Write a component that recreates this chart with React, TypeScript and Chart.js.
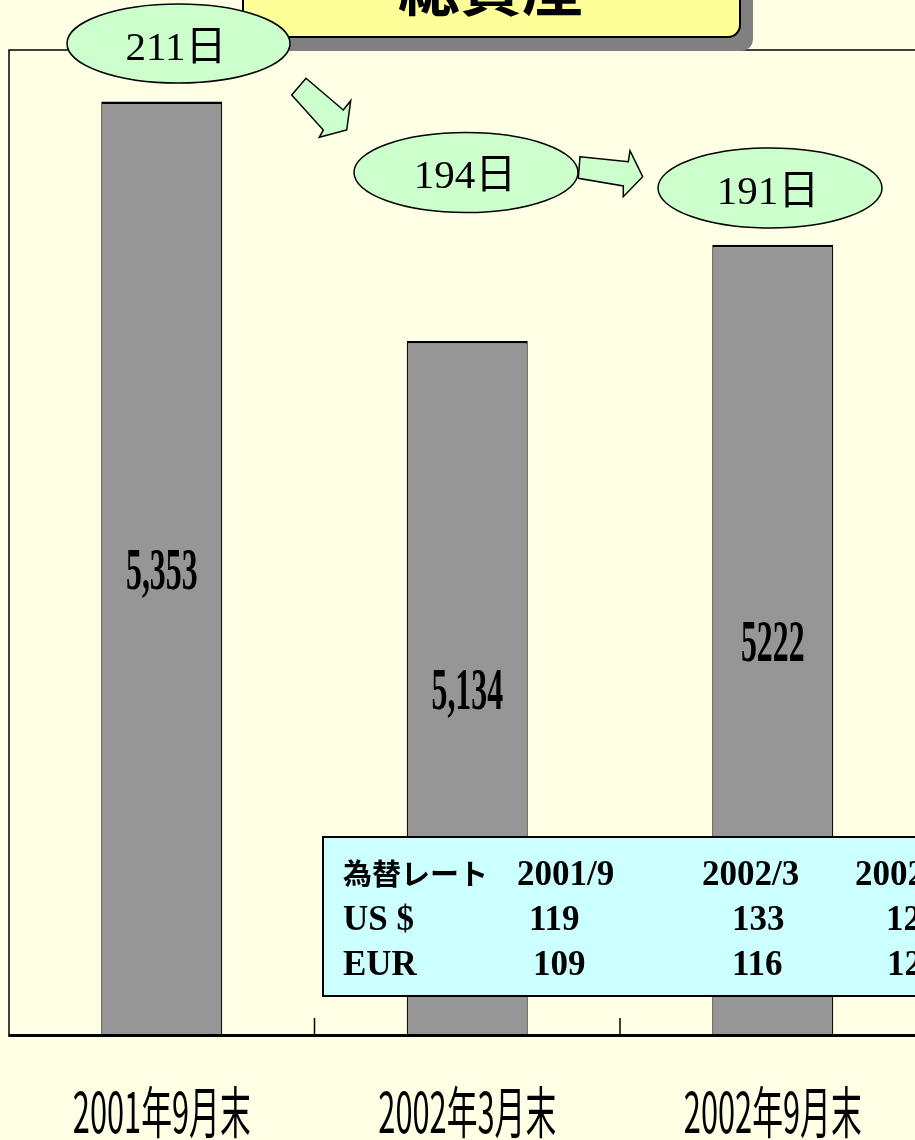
import React, { useEffect, useRef } from "react";
import { Chart, registerables } from "chart.js";

Chart.register(...registerables);

// ---- data ----
const categories = ["2001年9月末", "2002年3月末", "2002年9月末"];
const totalAssets = [5353, 5134, 5222];
const valueLabels = ["5,353", "5,134", "5222"];
const daysLabels = ["211日", "194日", "191日"];
const titleText = "総資産";
const rateTitle = "為替レート";
const rateHeaders = ["2001/9", "2002/3", "2002/9"];
const usdRates = ["119", "133", "122"];
const eurRates = ["109", "116", "120"];
const rateRowNames = ["US $", "EUR"];

const CANVAS_W = 930;
const CANVAS_H = 1140;

const decorPlugin = {
  id: "decor",
  afterDatasetsDraw(chart: any) {
    const { ctx, chartArea } = chart;
    const { left, top, right, bottom } = chartArea;
    const xScale = chart.scales.x;
    const yScale = chart.scales.y;
    ctx.save();
    ctx.strokeStyle = "#000";
    // plot border (left + top)
    ctx.lineWidth = 1.5;
    ctx.beginPath();
    ctx.moveTo(left, bottom);
    ctx.lineTo(left, top);
    ctx.lineTo(right, top);
    ctx.stroke();
    // axis line
    ctx.lineWidth = 3;
    ctx.beginPath();
    ctx.moveTo(left - 0.75, bottom + 0.5);
    ctx.lineTo(right, bottom + 0.5);
    ctx.stroke();
    // inside ticks between categories
    ctx.lineWidth = 1.5;
    for (let i = 0; i < categories.length - 1; i++) {
      const x = (xScale.getPixelForValue(i) + xScale.getPixelForValue(i + 1)) / 2;
      ctx.beginPath();
      ctx.moveTo(x, bottom - 17);
      ctx.lineTo(x, bottom);
      ctx.stroke();
    }
    // value labels in middle of bars
    ctx.fillStyle = "#000";
    ctx.textAlign = "center";
    ctx.textBaseline = "alphabetic";
    totalAssets.forEach((v, i) => {
      const x = xScale.getPixelForValue(i);
      const cy = (yScale.getPixelForValue(v) + bottom) / 2;
      ctx.save();
      ctx.translate(x, cy + 21);
      ctx.scale(0.53, 1);
      ctx.font = 'bold 60px "Liberation Serif"';
      ctx.fillText(valueLabels[i], 0, 0);
      ctx.restore();
    });
    // category labels (condensed)
    categories.forEach((lab, i) => {
      const x = xScale.getPixelForValue(i);
      ctx.save();
      ctx.translate(x, 1133);
      ctx.scale(0.55, 1);
      ctx.font = '56px "Noto Sans CJK JP"';
      ctx.fillText(lab, 0, 0);
      ctx.restore();
    });
    ctx.restore();
  },
};

function ChartCanvas() {
  const ref = useRef<HTMLCanvasElement | null>(null);
  useEffect(() => {
    if (!ref.current) return;
    const chart = new Chart(ref.current, {
      type: "bar",
      data: {
        labels: categories,
        datasets: [
          {
            data: totalAssets,
            backgroundColor: "#969696",
            borderColor: "#000",
            borderWidth: { top: 2.5, left: 1.2, right: 1.2, bottom: 0 },
            barPercentage: 0.396,
            categoryPercentage: 1,
          },
        ],
      },
      options: {
        animation: false,
        responsive: false,
        devicePixelRatio: 1,
        layout: { padding: { left: 9, top: 50, right: CANVAS_W - 925.5, bottom: CANVAS_H - 1035 } },
        plugins: { legend: { display: false }, tooltip: { enabled: false } },
        scales: {
          x: { display: false, offset: true },
          y: { display: false, min: 4500, max: 5400 },
        },
      },
      plugins: [decorPlugin],
    });
    return () => chart.destroy();
  }, []);
  return (
    <canvas
      ref={ref}
      width={CANVAS_W}
      height={CANVAS_H}
      style={{ position: "absolute", left: 0, top: 0, width: CANVAS_W, height: CANVAS_H }}
    />
  );
}

const serif = '"Liberation Serif", "Noto Sans CJK JP"';
const gothic = '"Noto Sans CJK JP"';

function Overlay() {
  const ellipses = [
    { cx: 178.5, cy: 43.5, rx: 111.5, ry: 39.5, tx: 176, ty: 60 },
    { cx: 466, cy: 172.5, rx: 112, ry: 40, tx: 465, ty: 188 },
    { cx: 770, cy: 188, rx: 112, ry: 40, tx: 768, ty: 204 },
  ];
  const arrows = [
    "291.7,95 306,78.3 343.3,110 350.7,100.7 346.7,130 319.3,137.3 323.3,130",
    "580,156.7 628.3,161.7 630,150.7 642.7,176.7 623.3,196.7 623.3,186 578.3,178.3",
  ];
  const headerX = [517, 702, 855];
  const usdX = [529, 732, 886];
  const eurX = [533, 732, 887];
  return (
    <svg
      width={915}
      height={1140}
      style={{ position: "absolute", left: 0, top: 0, pointerEvents: "none" }}
    >
      {/* title box */}
      <rect x={256} y={-26} width={497} height={77} rx={12} fill="#808080" />
      <rect x={243} y={-40} width={497} height={77} rx={12} fill="#FFFF99" stroke="#000" strokeWidth={2} />
      <text x={491} y={11} textAnchor="middle" fontFamily={gothic} fontWeight="bold" fontSize={62} fill="#000">
        {titleText}
      </text>
      {/* arrows */}
      {arrows.map((p, i) => (
        <polygon key={i} points={p} fill="#CCFFCC" stroke="#000" strokeWidth={1.5} strokeLinejoin="miter" />
      ))}
      {/* ellipses */}
      {ellipses.map((e, i) => (
        <g key={i}>
          <ellipse cx={e.cx} cy={e.cy} rx={e.rx} ry={e.ry} fill="#CCFFCC" stroke="#000" strokeWidth={1.5} />
          <text x={e.tx} y={e.ty} textAnchor="middle" fontFamily={serif} fontSize={41} fill="#000">
            {daysLabels[i]}
          </text>
        </g>
      ))}
      {/* exchange rate table */}
      <rect x={323} y={837} width={700} height={159} fill="#CCFFFF" stroke="#000" strokeWidth={2} />
      <text x={343} y={885} fontFamily={gothic} fontWeight="bold" fontSize={29} fill="#000">
        {rateTitle}
      </text>
      {rateHeaders.map((h, i) => (
        <text key={"h" + i} x={headerX[i]} y={885} fontFamily={serif} fontWeight="bold" fontSize={35} fill="#000">
          {h}
        </text>
      ))}
      <text x={343} y={930} fontFamily={serif} fontWeight="bold" fontSize={35} fill="#000">
        {rateRowNames[0]}
      </text>
      {usdRates.map((v, i) => (
        <text key={"u" + i} x={usdX[i]} y={930} fontFamily={serif} fontWeight="bold" fontSize={35} fill="#000">
          {v}
        </text>
      ))}
      <text x={343} y={975} fontFamily={serif} fontWeight="bold" fontSize={35} fill="#000">
        {rateRowNames[1]}
      </text>
      {eurRates.map((v, i) => (
        <text key={"e" + i} x={eurX[i]} y={975} fontFamily={serif} fontWeight="bold" fontSize={35} fill="#000">
          {v}
        </text>
      ))}
    </svg>
  );
}

export default function App() {
  return (
    <div
      style={{
        position: "absolute",
        left: 0,
        top: 0,
        width: 915,
        height: 1140,
        overflow: "hidden",
        background: "#FFFFE6",
      }}
    >
      <ChartCanvas />
      <Overlay />
    </div>
  );
}
